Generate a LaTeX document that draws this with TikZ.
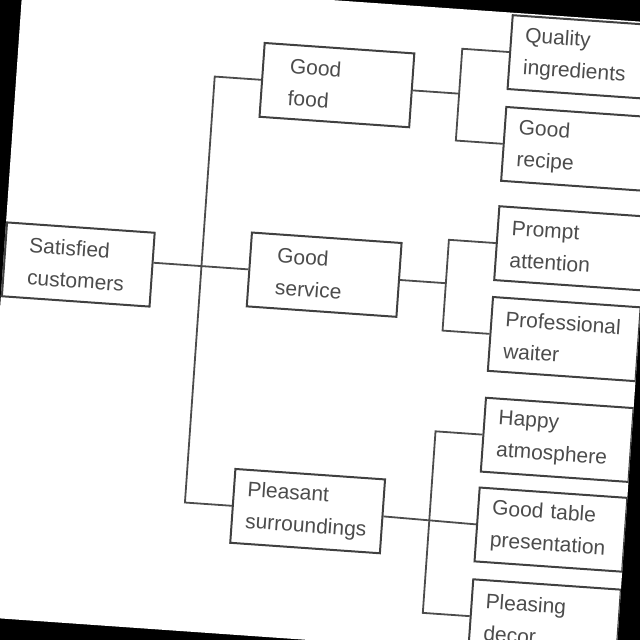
\documentclass[tikz,border=0pt]{standalone}
\usepackage{fontspec}
\setmainfont{Liberation Sans}
\usetikzlibrary{positioning}

\begin{document}
\begin{tikzpicture}
		[x=1pt, y=-1pt,
		box/.style={rectangle,draw=black!75,line width=2pt,minimum height=74pt,inner ysep=0pt,
			align=left,text=black!70,font=\fontsize{21}{32}\selectfont},
		leftbox/.style={box,text width=100pt,inner xsep=24pt},
		midbox/.style={box,text width=96pt,inner xsep=27pt},
		rightbox/.style={box,text width=120pt,inner xsep=14pt},
		conn/.style={draw=black!70,line width=1.8pt}]
		\useasboundingbox (0,0) rectangle (640,640);
		\fill[black] (0,0) rectangle (640,640);
		\begin{scope}[rotate around={-4:(320,320)}, transform shape]
		\fill[white] (0,0) rectangle (639,640);
		\clip (0,0) rectangle (639,640);

		\node [leftbox] (sat) at (75,281.5) {Satisfied\\customers};

		\node [midbox] (food) at (320.5,84.5) {Good\\food};
		\node [midbox] (serv) at (321,274.5) {Good\\service};
		\node [midbox,text width=123pt,inner xsep=13.5pt] (pleas) at (321,511.5) {Pleasant\\surroundings};

		\node [rightbox] (qual) at (565,39.5) {Quality\\ingredients};
		\node [rightbox] (recipe) [below=16pt of qual] {Good\\recipe};
		\node [rightbox] (prompt) at (565,231) {Prompt\\attention};
		\node [rightbox] (waiter) [below=15pt of prompt] {Professional\\waiter};
		\node [rightbox] (happy) at (565,423) {Happy\\atmosphere};
		\node [rightbox] (table) [below=14pt of happy] {Good table\\presentation};
		\node [rightbox] (decor) [below=16pt of table] {Pleasing\\decor};

		\coordinate (trunk) at (198,0);
		\coordinate (fork) at (443,0);

		\draw [conn] (serv.west -| sat.east) -- (serv.west);
		\draw [conn] (food.west) -- (food.west -| trunk) -- (pleas.west -| trunk) -- (pleas.west);

		\draw [conn] (food.east) -- (food.east -| fork);
		\draw [conn] (qual.west) -- (qual.west -| fork) -- (recipe.west -| fork) -- (recipe.west);
		\draw [conn] (serv.east) -- (serv.east -| fork);
		\draw [conn] (prompt.west) -- (prompt.west -| fork) -- (waiter.west -| fork) -- (waiter.west);
		\draw [conn] (pleas.east) -- (table.west);
		\draw [conn] (happy.west) -- (happy.west -| fork) -- (decor.west -| fork) -- (decor.west);
		\end{scope}

	\end{tikzpicture}
\end{document}
